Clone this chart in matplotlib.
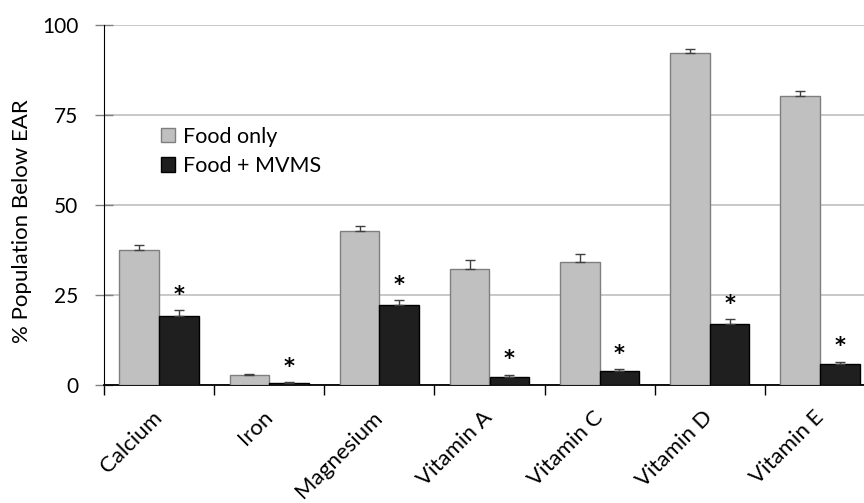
import matplotlib
matplotlib.use("Agg")
import matplotlib.pyplot as plt
import matplotlib.transforms as mtransforms
import numpy as np

categories = ["Calcium", "Iron", "Magnesium", "Vitamin A", "Vitamin C", "Vitamin D", "Vitamin E"]
food_only = [37.4, 2.7, 42.8, 32.2, 34.3, 92.3, 80.2]
food_only_err = [1.4, 0.3, 1.4, 2.4, 2.0, 1.1, 1.4]
food_mvms = [19.3, 0.5, 22.1, 2.3, 3.9, 17.0, 5.7]
food_mvms_err = [1.4, 0.2, 1.5, 0.5, 0.5, 1.2, 0.7]
significant = ["*", "*", "*", "*", "*", "*", "*"]
yticks = [0, 25, 50, 75, 100]

plt.rcParams['font.family'] = ['Lato', 'DejaVu Sans']

fig = plt.figure(figsize=(8.64, 5.03), dpi=100)
ax = fig.add_axes([104/864, 1-385/503, (875-104)/864, (385-25)/503])

x = np.arange(len(categories))
w = 0.36
ax.bar(x - w/2, food_only, w, color="#C0C0C0", edgecolor="#7F7F7F", linewidth=1.0,
       label="Food only", zorder=3)
ax.bar(x + w/2, food_mvms, w, color="#1F1F1F", edgecolor="#000000", linewidth=1.0,
       label="Food + MVMS", zorder=3)
ax.errorbar(x - w/2, food_only, yerr=[np.zeros(len(x)), food_only_err], fmt='none',
            ecolor="#404040", elinewidth=1.0, capsize=3.5, capthick=1.0, zorder=4)
ax.errorbar(x + w/2, food_mvms, yerr=[np.zeros(len(x)), food_mvms_err], fmt='none',
            ecolor="#404040", elinewidth=1.0, capsize=3.5, capthick=1.0, zorder=4)

for xi, v, e, s in zip(x, food_mvms, food_mvms_err, significant):
    ax.text(xi + w/2, v + e + 4.3, s, ha='center', va='center', fontsize=15,
            fontweight='bold', zorder=5, family='DejaVu Sans')

ax.set_xlim(-0.5, len(categories) - 0.5)
ax.set_ylim(0, 100)
ax.set_yticks(yticks)
ax.set_yticklabels([str(t) for t in yticks], fontsize=15)
ax.yaxis.grid(True, color="#BFBFBF", linewidth=1.2, zorder=0)
ax.set_axisbelow(True)

ax.set_xticks(x)
ax.set_xticklabels(categories, rotation=45, ha='right', rotation_mode='anchor', fontsize=16)
ax.tick_params(axis='x', which='major', length=0, pad=16)
shift = mtransforms.ScaledTranslation(-7/100, 0, fig.dpi_scale_trans)
for lbl in ax.get_xticklabels():
    lbl.set_transform(lbl.get_transform() + shift)
ax.set_xticks(np.arange(-0.5, len(categories) + 0.5, 1), minor=True)
ax.tick_params(axis='x', which='minor', length=7, width=1.0, color='black', direction='out')
ax.tick_params(axis='y', length=13, width=1.0, color='#808080', direction='inout', pad=12)

for s in ['top', 'right']:
    ax.spines[s].set_visible(False)
ax.spines['left'].set_color('black')
ax.spines['bottom'].set_color('black')
ax.spines['bottom'].set_linewidth(1.3)

ax.set_ylabel("% Population Below EAR", fontsize=16)
ax.yaxis.set_label_coords(-0.094, 0.455)

ax.legend(loc='upper left', bbox_to_anchor=(0.074, 0.718), frameon=False, fontsize=15.5,
          handlelength=0.65, handleheight=0.65, handletextpad=0.35, labelspacing=0.45,
          borderaxespad=0, borderpad=0)

fig.savefig("out.png", dpi=100)
